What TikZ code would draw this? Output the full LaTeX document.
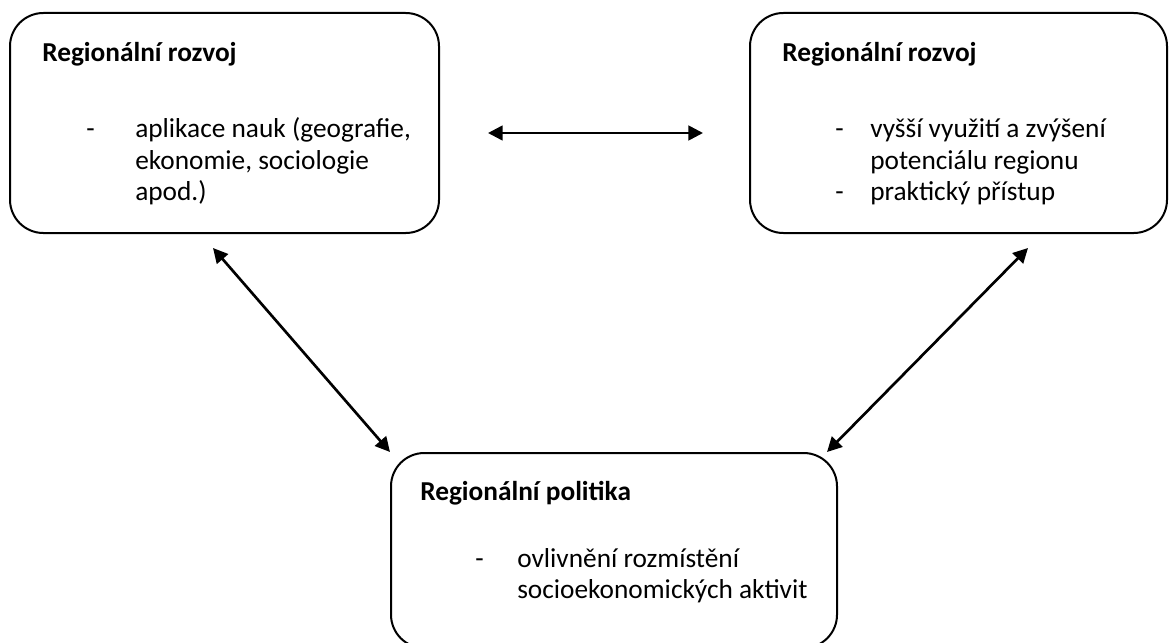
\documentclass[tikz,border=0pt]{standalone}
\usepackage{fontspec}
\setmainfont{Carlito}
\usetikzlibrary{arrows.meta}

\tikzset{
    panel/.style={draw, line width=1.5pt, rounded corners=25pt, inner sep=0pt},
    label/.style={anchor=base west, inner sep=0pt, font=\fontsize{20.5}{24}\selectfont},
    head/.style={label, font=\fontsize{20.5}{24}\selectfont\bfseries},
    link/.style={line width=2pt, {Triangle[length=11pt, width=11pt]}-{Triangle[length=11pt, width=11pt]}}
}

\begin{document}
\begin{tikzpicture}[x=0.75pt, y=-0.75pt]
    \clip (0, 0) rectangle (1176, 642);
    \node[panel, minimum width=321.75pt, minimum height=165pt] (rozvojA) at (224.5, 123) {};
    \node[panel, minimum width=312.75pt, minimum height=165pt] (rozvojB) at (958.5, 123) {};
    \node[panel, minimum width=334.5pt, minimum height=146.25pt] (politika) at (614, 550.5) {};

    \node[head] (titA) at (42, 62) {Regionální rozvoj};
    \node[label] (dashA) at (86, 137) {-};
    \node[label] (a1) at (135, 137) {aplikace nauk (geografie,};
    \node[label] (a2) at (135, 169) {ekonomie, sociologie};
    \node[label] (a3) at (135, 200) {apod.)};

    \node[head] (titB) at (782, 62) {Regionální rozvoj};
    \node[label] (dashB1) at (835, 137) {-};
    \node[label] (b1) at (870, 137) {vyšší využití a zvýšení};
    \node[label] (b2) at (870, 169) {potenciálu regionu};
    \node[label] (dashB2) at (835, 200) {-};
    \node[label] (b3) at (870, 200) {praktický přístup};

    \node[head] (titC) at (420, 500) {Regionální politika};
    \node[label] (dashC) at (475, 567) {-};
    \node[label] (c1) at (517, 567) {ovlivnění rozmístění};
    \node[label] (c2) at (517, 598) {socioekonomických aktivit};

    % arrow ends
    \coordinate (hA) at (488, 133);
    \coordinate (hB) at (703, 133);
    \coordinate (dA) at (213, 248);
    \coordinate (dB) at (1028, 248);

    \draw[link] (hA) -- (hB);
    \draw[link] (dA) -- (politika.north west);
    \draw[link] (dB) -- ([xshift=-8.25pt]politika.north east);
\end{tikzpicture}
\end{document}
